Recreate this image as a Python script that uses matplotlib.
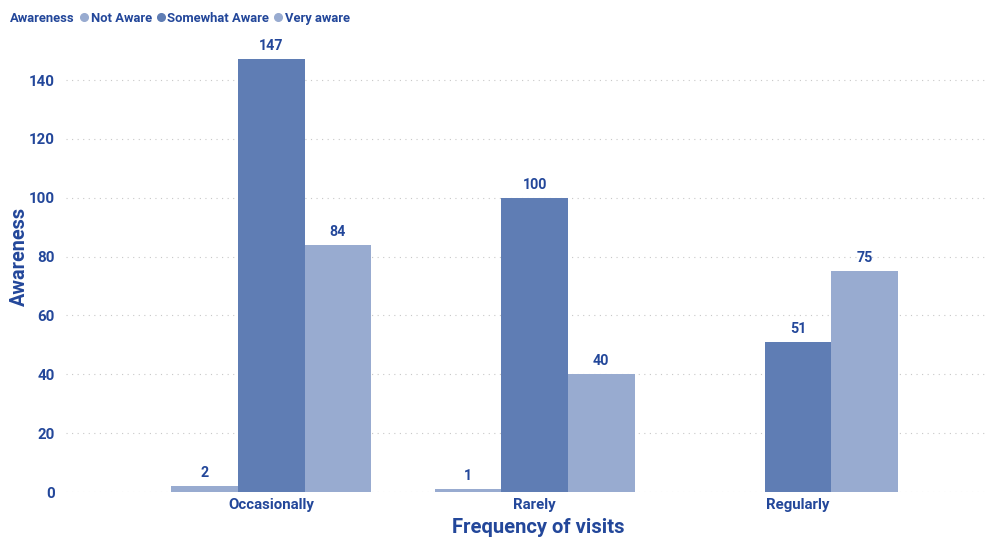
import matplotlib
matplotlib.use("Agg")
import matplotlib.pyplot as plt
from matplotlib.lines import Line2D
import numpy as np

categories = ["Occasionally", "Rarely", "Regularly"]
series_names = ["Not Aware", "Somewhat Aware", "Very aware"]
not_aware = [2, 1, None]
somewhat_aware = [147, 100, 51]
very_aware = [84, 40, 75]
y_ticks = [0, 20, 40, 60, 80, 100, 120, 140]

colors = ["#98abd0", "#5f7db4", "#98abd0"]
text_color = "#23479a"

plt.rcParams["font.family"] = ["Roboto", "DejaVu Sans"]

fig = plt.figure(figsize=(9.97, 5.38), dpi=100)
ax = fig.add_axes([0.066, 0.0855, 0.922, 0.875])

x = np.arange(len(categories))
width = 0.253
offsets = [-width, 0, width]
for vals, off, col in zip([not_aware, somewhat_aware, very_aware], offsets, colors):
    for xi, v in zip(x, vals):
        if v is None:
            continue
        ax.bar(xi + off, v, width=width, color=col, edgecolor="none")
        ax.annotate(str(v), (xi + off, v), xytext=(0, 4.5), textcoords="offset points",
                    ha="center", va="bottom", fontsize=10.3, fontweight="bold", color=text_color)

ax.set_xlim(-0.78, 2.71)
ax.set_ylim(0, 160)
ax.set_yticks(y_ticks)
ax.set_xticks(x)
ax.set_xticklabels(categories)
ax.grid(axis="y", linestyle=(0, (1, 4)), color="#c8c8c8", linewidth=0.8)
ax.set_axisbelow(True)
for s in ax.spines.values():
    s.set_visible(False)
ax.tick_params(axis="both", length=0, colors=text_color, labelsize=10.8)
ax.tick_params(axis="y", pad=8)
ax.tick_params(axis="x", pad=4)
for lbl in ax.get_xticklabels() + ax.get_yticklabels():
    lbl.set_fontweight("bold")
    lbl.set_color(text_color)
ax.set_xlabel("Frequency of visits", fontsize=14.6, fontweight="bold", color=text_color)
ax.set_ylabel("Awareness", fontsize=14.3, fontweight="bold", color=text_color)
ax.xaxis.set_label_coords(0.514, -0.055)
ax.yaxis.set_label_coords(-0.040, 0.5)

# legend header row
fig.text(0.010, 0.9665, "Awareness", fontsize=9.4, fontweight="bold", color=text_color, va="center")
handles = [Line2D([], [], marker="o", linestyle="none", markersize=5.5, color=c) for c in colors]
leg = fig.legend(handles, series_names, loc="center left", bbox_to_anchor=(0.079, 0.9665),
                 ncol=3, frameon=False, handletextpad=0.1, columnspacing=0.3,
                 handlelength=0.8, borderpad=0, borderaxespad=0,
                 prop={"weight": "bold", "size": 9.4})
for t in leg.get_texts():
    t.set_color(text_color)

fig.savefig("out.png", dpi=100)
